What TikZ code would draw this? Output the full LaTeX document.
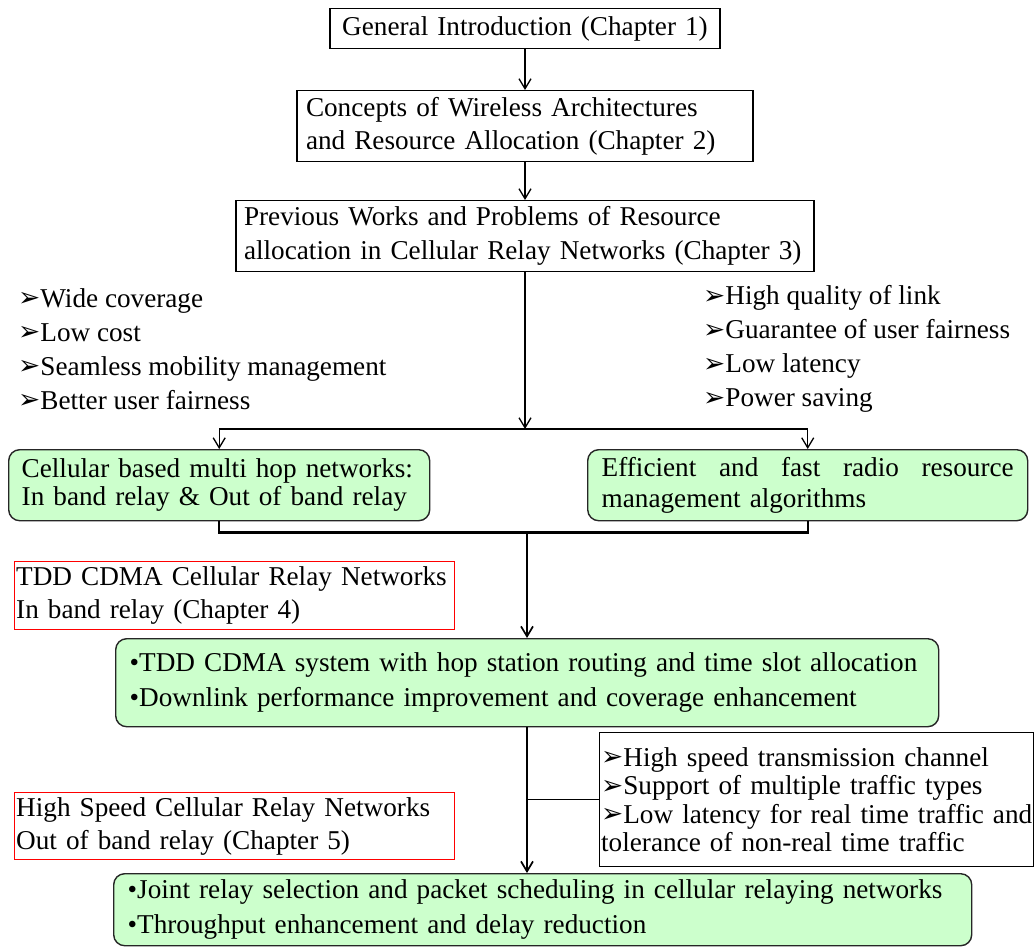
\documentclass[tikz,border=0pt]{standalone}
\usepackage{fontspec}
\setmainfont{Liberation Serif}
\newfontfamily\dingfont{DejaVu Sans}
\usetikzlibrary{arrows.meta}
\definecolor{paleGreen}{HTML}{CCFFCC}
% list marker and bullet used in the boxes
\newcommand{\pointer}{{\dingfont\fontsize{26.5}{26.5}\selectfont\raisebox{0.5pt}{➢}}}
\newcommand{\dotmark}{\textbullet}
% one unbreakable line of text
\newcommand{\oneline}[1]{\mbox{#1}}

\begin{document}
\begin{tikzpicture}[x=1pt,y=-1pt,
  lines/.style={font=\fontsize{27.2}{#1}\selectfont},
  chapbox/.style={draw, line width=1.3pt, anchor=north, inner ysep=0pt, align=left},
  greenbox/.style={draw=black!85, fill=paleGreen, rounded corners=11pt, line width=1.4pt,
                   anchor=north west, inner ysep=0pt, align=left},
  redbox/.style={draw=red, line width=1.4pt, anchor=north west, inner xsep=1.5pt, inner ysep=0pt, align=left},
  plainlist/.style={anchor=west, inner sep=0pt, align=left},
  link/.style={line width=1.3pt},
  heavy/.style={line width=2.3pt},
  spine/.style={line width=1.7pt},
  flow/.style={link, -{Straight Barb[length=10pt,width=12pt]}},
  spineflow/.style={spine, -{Straight Barb[length=10pt,width=12pt]}}]

\useasboundingbox (0,0) rectangle (1035,951);

% chapter boxes along the main spine
\node[chapbox, lines=33, align=center, minimum width=390pt, minimum height=40pt,
      text width=372pt, inner xsep=9pt] (intro) at (525,8)
  {\oneline{General Introduction (Chapter 1)}};
\node[chapbox, lines=33, minimum width=456pt, minimum height=71pt,
      text width=438pt, inner xsep=9pt] (concepts) at (525,90)
  {\oneline{Concepts of Wireless Architectures}\\\oneline{and Resource Allocation (Chapter 2)}};
\node[chapbox, lines=34, minimum width=578pt, minimum height=71pt,
      text width=562pt, inner xsep=8pt] (previous) at (525,200)
  {\oneline{Previous Works and Problems of Resource}\\\oneline{allocation in Cellular Relay Networks (Chapter 3)}};

% motivation lists
\node[plainlist, lines=34] (pros) at (18,349)
  {\pointer\oneline{Wide coverage}\\\pointer\oneline{Low cost}\\\pointer\oneline{Seamless mobility management}\\\pointer\oneline{Better user fairness}};
\node[plainlist, lines=34] (needs) at (703,349)
  {\pointer\oneline{High quality of link}\\\pointer\oneline{Guarantee of user fairness}\\\pointer\oneline{Low latency}\\\pointer\oneline{Power saving}};

% research directions
\node[greenbox, lines=28, minimum width=421pt, minimum height=71pt,
      text width=395pt, inner xsep=13pt] (multihop) at (8,449)
  {\oneline{Cellular based multi hop networks:}\\\oneline{In band relay \& Out of band relay}};
\node[greenbox, lines=31, minimum width=440pt, minimum height=71pt,
      text width=412pt, inner xsep=14pt] (rrm) at (587,449)
  {\hbox to 412pt{Efficient\hfill and\hfill fast\hfill radio\hfill resource}\\\oneline{management algorithms}};

% chapter 4
\node[redbox, lines=33, minimum width=440pt, minimum height=68pt,
      text width=437pt] (ch4) at (14,561)
  {\oneline{TDD CDMA Cellular Relay Networks}\\\oneline{In band relay (Chapter 4)}};
\node[greenbox, lines=35, minimum width=823pt, minimum height=88pt,
      text width=795pt, inner xsep=14pt] (tdd) at (115,638)
  {\oneline{\dotmark TDD CDMA system with hop station routing and time slot allocation}\\
   \oneline{\dotmark Downlink performance improvement and coverage enhancement}};

% chapter 5
\node[draw, line width=1.3pt, anchor=north west, inner xsep=1.5pt, inner ysep=0pt, align=left,
      lines=28.5, minimum width=434pt, minimum height=134pt, text width=431pt] (hs) at (599,732)
  {\pointer\oneline{High speed transmission channel}\\\pointer\oneline{Support of multiple traffic types}\\
   \pointer\oneline{Low latency for real time traffic and}\\\oneline{tolerance of non-real time traffic}};
\node[redbox, lines=33, minimum width=440pt, minimum height=67pt,
      text width=437pt] (ch5) at (14,792)
  {\oneline{High Speed Cellular Relay Networks}\\\oneline{Out of band relay (Chapter 5)}};
\node[greenbox, lines=35, minimum width=858pt, minimum height=72pt,
      text width=830pt, inner xsep=14pt] (joint) at (113,873)
  {\oneline{\dotmark Joint relay selection and packet scheduling in cellular relaying networks}\\
   \oneline{\dotmark Throughput enhancement and delay reduction}};

% connectors
\coordinate (split) at (525,429);
\coordinate (merge) at (527,533);
\draw[flow] (intro.south) -- (concepts.north);
\draw[flow] (concepts.south) -- (previous.north);
\draw[flow] (previous.south) -- (split);
\draw[link] (multihop.north |- split) -- (rrm.north |- split);
\draw[flow] (multihop.north |- split) -- (multihop.north);
\draw[flow] (rrm.north |- split) -- (rrm.north);
\draw[heavy] (multihop.south) -- ++(0,11) -| (rrm.south);
\draw[spineflow] (merge) -- (merge |- tdd.north);
\draw[spineflow] (merge |- tdd.south) -- (merge |- joint.north);
\draw[link] (merge |- hs.west) -- (hs.west);
\end{tikzpicture}
\end{document}
